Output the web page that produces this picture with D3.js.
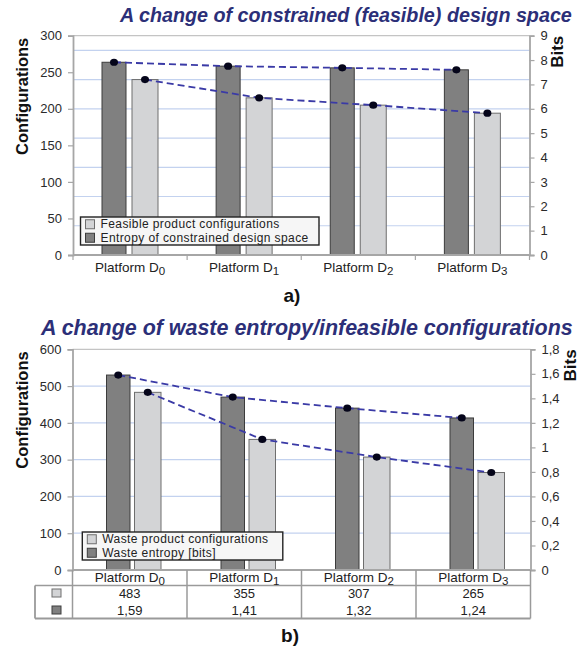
<!DOCTYPE html>
<html><head><meta charset="utf-8">
<script src="https://cdn.jsdelivr.net/npm/d3@7"></script>
<style>
body{margin:0;background:#fff;}
svg text{font-family:"Liberation Sans",Arial,sans-serif;}
</style></head>
<body>
<svg id="c" width="584" height="653"></svg>
<script>
// ---------- data ----------
const platforms = ["0","1","2","3"];           // subscripts of "Platform D"
const feasibleConfigs = [240, 215, 205, 194];   // chart a, light bars (left axis)
const constrainedEntropy = [7.91, 7.75, 7.68, 7.60]; // chart a, dark bars (bits)
const wasteConfigs = [483, 355, 307, 265];      // chart b, light bars
const wasteEntropy = [1.59, 1.41, 1.32, 1.24];  // chart b, dark bars (bits)
const ticksA = [0,50,100,150,200,250,300];
const ticksABits = [0,1,2,3,4,5,6,7,8,9];
const gridA = [40,80,120,160,200,240,280];
const ticksB = [0,100,200,300,400,500,600];
const ticksBBits = [0,0.2,0.4,0.6,0.8,1.0,1.2,1.4,1.6,1.8];
const gridB = [100,200,300,400,500];
const titleA = "A change of constrained (feasible) design space";
const titleB = "A change of waste entropy/infeasible configurations";
const legendA = ["Feasible product configurations","Entropy of constrained design space"];
const legendB = ["Waste product configurations","Waste entropy [bits]"];

const svg = d3.select("#c");
const DARK = "#808080", DARKS = "#3c3c3c", LIGHT = "#d3d4d6", LIGHTS = "#6e6e6e";
const AXC = "#a6a6a6", GRID = "#c3d2ef", LINEC = "#3a3aa6", TITLEC = "#2c2f78";
const fmt = v => String(+v.toFixed(2)).replace(".", ",");

function fitTitle(txt, x0, x1, y){
  const t = svg.append("text").attr("x", x0).attr("y", y)
    .attr("font-weight","bold").attr("font-style","italic")
    .attr("fill", TITLEC).attr("font-size", 18).text(txt);
  const w = t.node().getComputedTextLength();
  t.attr("font-size", 18 * (x1 - x0) / w);
}

function chart(o){
  const {L,R,T,B,yMax,bitMax,configs,bits,ticks,bitTicks,grid,darkRange,lightRange,bitFmt,bitsX} = o;
  const x = d3.scaleBand().domain(platforms).range([L,R]).padding(0);
  const y = d3.scaleLinear().domain([0,yMax]).range([B,T]);
  const y2 = d3.scaleLinear().domain([0,bitMax]).range([B,T]);
  const xd = c => x(c) + darkRange[0];
  const xl = c => x(c) + lightRange[0];
  const wd = darkRange[1]-darkRange[0], wl = lightRange[1]-lightRange[0];
  const g = svg.append("g");
  // grid
  g.selectAll(".gr").data(grid).join("line")
    .attr("x1",L).attr("x2",R).attr("y1",d=>y(d)).attr("y2",d=>y(d))
    .attr("stroke",GRID).attr("stroke-width",1.2);
  g.append("line").attr("x1",L).attr("x2",R).attr("y1",T).attr("y2",T)
    .attr("stroke","#c4c4c4").attr("stroke-width",1.2);
  // bars
  g.selectAll(".db").data(platforms).join("rect")
    .attr("x",d=>xd(d)).attr("width",wd)
    .attr("y",(d,i)=>y2(bits[i])).attr("height",(d,i)=>B-y2(bits[i]))
    .attr("fill",DARK).attr("stroke",DARKS).attr("stroke-width",1);
  g.selectAll(".lb").data(platforms).join("rect")
    .attr("x",d=>xl(d)).attr("width",wl)
    .attr("y",(d,i)=>y(configs[i])).attr("height",(d,i)=>B-y(configs[i]))
    .attr("fill",LIGHT).attr("stroke",LIGHTS).attr("stroke-width",1);
  // axes
  const ax = g.append("g").attr("transform",`translate(${L},0)`)
    .call(d3.axisLeft(y).tickValues(ticks).tickSize(5).tickPadding(6));
  const ax2 = g.append("g").attr("transform",`translate(${R},0)`)
    .call(d3.axisRight(y2).tickValues(bitTicks).tickSize(5).tickPadding(6).tickFormat(bitFmt));
  [ax,ax2].forEach(a=>{
    a.select(".domain").attr("stroke",AXC).attr("stroke-width",1.8);
    a.selectAll(".tick line").attr("stroke",AXC).attr("stroke-width",1.2);
    a.selectAll(".tick text").attr("font-size",13).attr("fill","#2a2a2a")
      .attr("font-family",'"Liberation Sans",Arial,sans-serif');
  });
  g.append("line").attr("x1",L).attr("x2",R).attr("y1",B).attr("y2",B)
    .attr("stroke",AXC).attr("stroke-width",1.8);
  // lines + markers
  const lineD = d3.line().x(d=>d[0]).y(d=>d[1]);
  const dPts = platforms.map((c,i)=>[xd(c)+wd/2, y2(bits[i])]);
  const lPts = platforms.map((c,i)=>[xl(c)+wl/2, y(configs[i])]);
  [dPts,lPts].forEach(pts=>{
    g.append("path").attr("d",lineD(pts)).attr("fill","none")
      .attr("stroke",LINEC).attr("stroke-width",1.8).attr("stroke-dasharray","7,4");
    g.selectAll(null).data(pts).join("ellipse")
      .attr("cx",d=>d[0]).attr("cy",d=>d[1]).attr("rx",4).attr("ry",3.6)
      .attr("fill","#05051a");
  });
  // axis titles
  g.append("text").attr("transform",`translate(${L-45},${T+2}) rotate(-90)`)
    .attr("text-anchor","end").attr("font-weight","bold").attr("font-size",16.5)
    .attr("fill","#111").text("Configurations");
  g.append("text").attr("transform",`translate(${R+bitsX},${T}) rotate(-90)`)
    .attr("text-anchor","end").attr("font-weight","bold").attr("font-size",17)
    .attr("fill","#111").text("Bits");
  return {x,y,y2,g};
}

function legend(x0,y0,w,h,labels){
  const g = svg.append("g");
  g.append("rect").attr("x",x0).attr("y",y0).attr("width",w).attr("height",h)
    .attr("fill","#f6f6f6").attr("stroke","#222").attr("stroke-width",1.4);
  const step = (h-1)/2;
  labels.forEach((lab,i)=>{
    const cy = y0 + 0.5 + step/2 + i*step;
    g.append("rect").attr("x",x0+5).attr("y",cy-4.5).attr("width",9).attr("height",9)
      .attr("fill", i===0?LIGHT:DARK).attr("stroke", i===0?LIGHTS:DARKS).attr("stroke-width",1);
    g.append("text").attr("x",x0+20).attr("y",cy+4.2).attr("font-size",12)
      .attr("letter-spacing",0.4).attr("fill","#222").text(lab);
  });
}

function platLabel(g, cx, y, sub){
  const t = g.append("text").attr("x",cx).attr("y",y).attr("text-anchor","middle")
    .attr("font-size",13.5).attr("fill","#222");
  t.append("tspan").text("Platform D");
  t.append("tspan").attr("dy",3).attr("font-size",11.5).text(sub);
}

// ---------- chart a ----------
fitTitle(titleA, 120, 572, 22);
const A = chart({L:73,R:529.5,T:35.7,B:255,yMax:300,bitMax:9,
  configs:feasibleConfigs,bits:constrainedEntropy,ticks:ticksA,bitTicks:ticksABits,grid:gridA,
  darkRange:[29,53],lightRange:[59,85],bitFmt:d=>String(d),bitsX:33});
// category ticks a
A.g.selectAll(".ct").data(platforms.concat(["end"])).join("line")
  .attr("x1",(d,i)=>73+i*A.x.bandwidth()).attr("x2",(d,i)=>73+i*A.x.bandwidth())
  .attr("y1",255).attr("y2",260).attr("stroke",AXC).attr("stroke-width",1.2);
platforms.forEach(p=>platLabel(A.g, A.x(p)+A.x.bandwidth()/2, 272, p));
legend(80.5,217,238.5,28,legendA);
svg.append("text").attr("x",292).attr("y",302).attr("text-anchor","middle")
  .attr("font-weight","bold").attr("font-size",19).attr("fill","#111").text("a)");

// ---------- chart b ----------
fitTitle(titleB, 41, 573, 335);
const Bc = chart({L:72.5,R:530.5,T:349.3,B:570,yMax:600,bitMax:1.8,
  configs:wasteConfigs,bits:wasteEntropy,ticks:ticksB,bitTicks:ticksBBits,grid:gridB,
  darkRange:[34,57.5],lightRange:[62,88.5],bitFmt:fmt,bitsX:45});
legend(82.3,532,200.5,28,legendB);
// data table
const tb = svg.append("g");
const tL = 35, tR = 530.5, hTop = 570, hBot = 585.5, tBot = 618.5;
const TC = "#9a9a9a";
tb.append("line").attr("x1",tL).attr("x2",tR).attr("y1",hBot).attr("y2",hBot).attr("stroke",TC).attr("stroke-width",1.5);
tb.append("line").attr("x1",tL).attr("x2",tR).attr("y1",tBot).attr("y2",tBot).attr("stroke",TC).attr("stroke-width",1.8);
tb.append("line").attr("x1",tL).attr("x2",tL).attr("y1",hBot).attr("y2",tBot).attr("stroke",TC).attr("stroke-width",1.8);
tb.selectAll(".v").data(platforms.concat(["end"])).join("line")
  .attr("x1",(d,i)=>72.5+i*Bc.x.bandwidth()).attr("x2",(d,i)=>72.5+i*Bc.x.bandwidth())
  .attr("y1",hTop).attr("y2",tBot).attr("stroke",TC).attr("stroke-width",1.5);
platforms.forEach((p,i)=>{
  const cx = Bc.x(p)+Bc.x.bandwidth()/2;
  platLabel(tb, cx, 581.5, p);
  tb.append("text").attr("x",cx).attr("y",598).attr("text-anchor","middle")
    .attr("font-size",13).attr("fill","#222").text(wasteConfigs[i]);
  tb.append("text").attr("x",cx).attr("y",614.5).attr("text-anchor","middle")
    .attr("font-size",13).attr("fill","#222").text(fmt(wasteEntropy[i]));
});
tb.append("rect").attr("x",52).attr("y",589).attr("width",9).attr("height",8)
  .attr("fill",LIGHT).attr("stroke",LIGHTS);
tb.append("rect").attr("x",52).attr("y",606).attr("width",9).attr("height",8)
  .attr("fill",DARK).attr("stroke",DARKS);
svg.append("text").attr("x",290).attr("y",642).attr("text-anchor","middle")
  .attr("font-weight","bold").attr("font-size",19).attr("fill","#111").text("b)");
</script>
</body></html>
